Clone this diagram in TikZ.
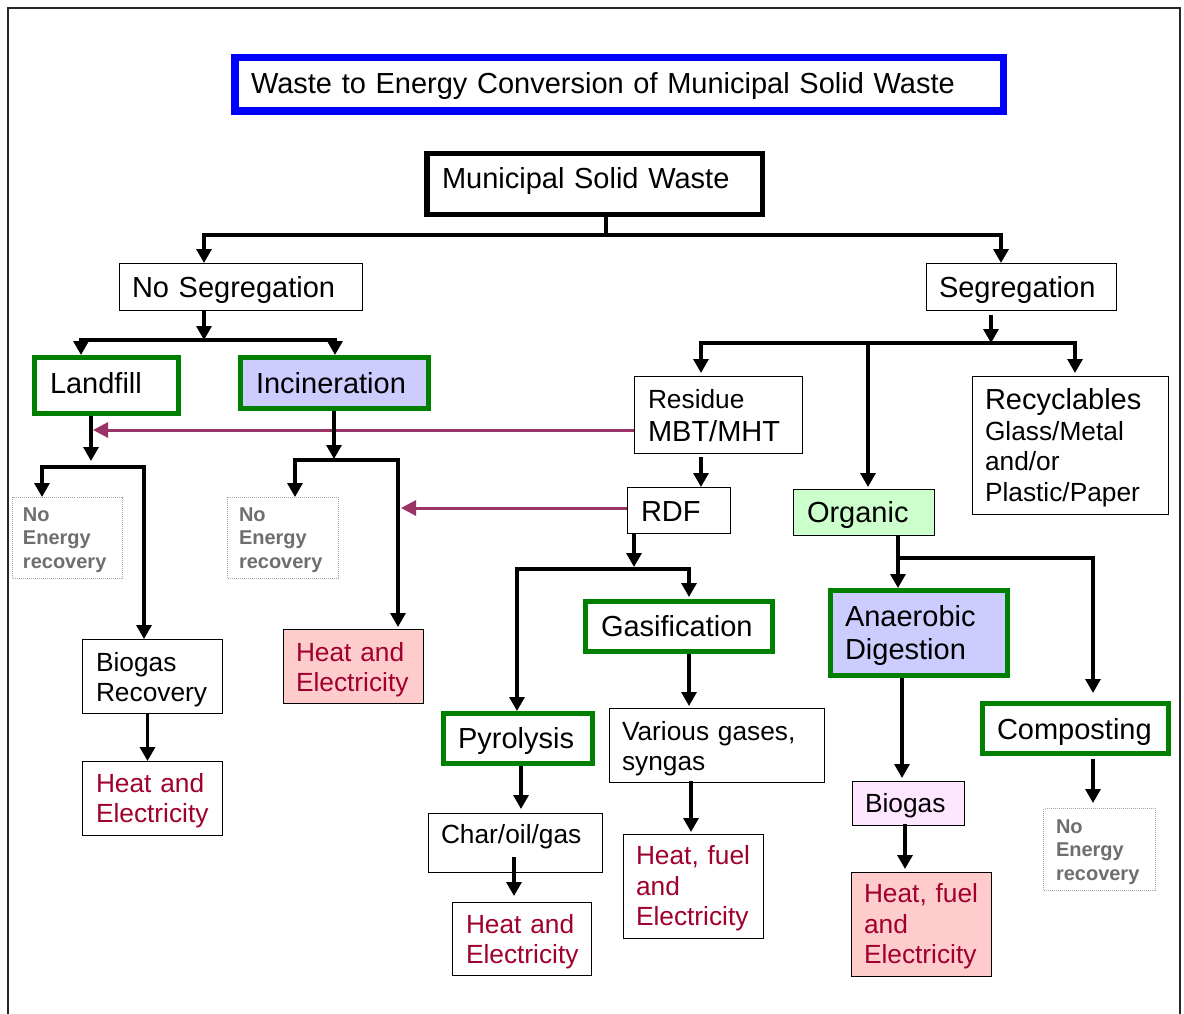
\documentclass[tikz,border=0pt]{standalone}
\usepackage{fontspec}
\setmainfont{Liberation Sans}
\usetikzlibrary{arrows.meta}
\hyphenpenalty=10000
\exhyphenpenalty=10000

\definecolor{titleblue}{HTML}{0000FF}
\definecolor{procgreen}{HTML}{008000}
\definecolor{lavender}{HTML}{CCCCFF}
\definecolor{mint}{HTML}{CCFFCC}
\definecolor{blush}{HTML}{FFCCCC}
\definecolor{pinklav}{HTML}{FFE6FF}
\definecolor{outred}{HTML}{A0002E}
\definecolor{plum}{HTML}{993366}
\definecolor{dimgray}{HTML}{6E6E6E}
\definecolor{dotgray}{HTML}{A6A6A6}

\newcommand{\fbig}{\fontsize{29}{33.4}\selectfont}
\newcommand{\fmed}{\fontsize{26.3}{30.5}\selectfont}
\newcommand{\fsml}{\fontsize{20}{23.3}\selectfont\bfseries}

% box from its outer corners (x1,y1)-(x2,y2), border width,
% left edge of its text and baseline of its first line; the text follows
\newcommand{\placebox}[9]{%
  \tikzset{curbox/.style={#2}}%
  \def\bxname{#1}%
  \pgfmathsetmacro{\bxlw}{#3}%
  \pgfmathsetmacro{\bxw}{#6-#4-#3}%
  \pgfmathsetmacro{\bxd}{#8-#4-#3/2}%
  \pgfmathsetmacro{\bxt}{\bxw-2*\bxd}%
  \pgfmathsetmacro{\bxx}{(#4+#6)/2}%
  \pgfmathsetmacro{\bxy}{(#5+#7)/2}%
  \pgfmathsetmacro{\bxa}{#9-#5-#3/2}%
  \pgfmathsetmacro{\bxb}{#7-#9-#3/2}%
  \placeboxtext}
\newcommand{\placeboxtext}[1]{%
  \node[curbox, line width=\bxlw pt, minimum width=\bxw pt, text width=\bxt pt,
        inner xsep=\bxd pt, text height=\bxa pt, text depth=\bxb pt]
        (\bxname) at (\bxx,\bxy) {#1};}

\tikzset{
  box/.style={draw=black, fill=white, inner ysep=0pt, align=left, font=\fbig, text=black},
  gbox/.style={box, draw=procgreen},
  mbox/.style={box, font=\fmed},
  hbox/.style={box, font=\fmed, text=outred},
  nebox/.style={box, draw=dotgray, densely dotted, font=\fsml, text=dimgray},
  ln/.style={line width=3.2pt, draw=black},
  arr/.style={ln, -{Triangle[length=14pt,width=15pt]}},
  arr2/.style={ln, {Triangle[length=14pt,width=15pt]}-{Triangle[length=14pt,width=15pt]}},
  parr/.style={line width=3pt, draw=plum, -{Triangle[length=15pt,width=15pt]}},
}

\begin{document}
\begin{tikzpicture}[x=1pt, y=-1pt]
\useasboundingbox[fill=white] (0,0) rectangle (1184,1014);
% outer frame
\draw[line width=1.5pt, draw=black!85] (8,1030) -- (8,8) -- (1180,8) -- (1180,1030);

% boxes
\placebox{title}{box, draw=titleblue}{7.5}{231}{54}{1007}{115}{251}{93.5}{Waste to Energy Conversion of Municipal Solid Waste}
\placebox{msw}{box}{5.5}{424}{151}{765}{217}{442}{188.5}{Municipal Solid Waste}
\placebox{noseg}{box}{1.3}{119}{263}{363}{311}{132}{297}{No Segregation}
\placebox{seg}{box}{1.3}{926}{263}{1117}{311}{939}{297}{Segregation}

\placebox{landfill}{gbox}{5}{32}{355}{181}{416}{50}{393}{Landfill}
\placebox{incin}{gbox, fill=lavender}{5}{238}{355}{431}{411}{256}{393}{Incineration}
\placebox{ne1}{nebox}{1}{12}{497}{123}{579}{23}{521.5}{No\\Energy\\recovery}
\placebox{ne2}{nebox}{1}{227}{497}{339}{579}{239}{521.5}{No\\Energy\\recovery}
\placebox{heat1}{hbox, fill=blush}{1.3}{283}{629}{424}{704}{296}{661}{Heat and\\Electricity}
\placebox{biorec}{mbox}{1.3}{82}{639}{223}{714}{96}{671}{Biogas\\Recovery}
\placebox{heat2}{hbox}{1.3}{82}{761}{223}{836}{96}{792}{Heat and\\Electricity}

\placebox{resid}{box}{1.3}{634}{376}{803}{454}{648}{408}{{\fmed Residue}\\MBT/MHT}
\placebox{rdf}{box}{1.3}{627}{487}{731}{534}{641}{521}{RDF}
\placebox{gasif}{gbox}{5}{583}{599}{775}{654}{601}{636}{Gasification}
\placebox{pyro}{gbox}{5}{441}{711}{595}{766}{458}{748.5}{Pyrolysis}
\placebox{char}{mbox}{1.3}{428}{813}{603}{873}{441}{843.5}{Char/oil/gas}
\placebox{heat3}{hbox}{1.3}{452}{902}{592}{976}{466}{933}{Heat and\\Electricity}
\placebox{various}{mbox}{1.3}{609}{708}{825}{783}{622}{740}{Various gases,\\syngas}
\placebox{heat4}{hbox}{1.3}{623}{834}{764}{939}{636}{864.5}{Heat, fuel\\and\\Electricity}

\placebox{organic}{box, fill=mint}{1.3}{793}{489}{935}{536}{807}{522}{Organic}
\placebox{recyc}{mbox}{1.3}{972}{376}{1169}{515}{985}{409.5}{{\fbig Recyclables}\\Glass/Metal\\and/or\\Plastic/Paper}
\placebox{ad}{gbox, fill=lavender}{5}{828}{588}{1010}{678}{845}{626}{Anaerobic\\Digestion}
\placebox{biogas}{mbox, fill=pinklav}{1.3}{852}{781}{965}{826}{865}{812.5}{Biogas}
\placebox{heat5}{hbox, fill=blush}{1.3}{851}{872}{992}{977}{864}{902.5}{Heat, fuel\\and\\Electricity}
\placebox{compost}{gbox}{5}{980}{701}{1171}{756}{997}{739}{Composting}
\placebox{ne3}{nebox}{1}{1043}{808}{1156}{891}{1056}{833.5}{No\\Energy\\recovery}

% branch points
\coordinate (m)  at (606,235);
\coordinate (mL) at (204,235);
\coordinate (mR) at (1001,235);
\coordinate (n)  at (204,340);
\coordinate (nL) at (81,340);
\coordinate (nR) at (335,340);
\coordinate (la) at (91,461);
\coordinate (lL) at (42,467);
\coordinate (lR) at (144,467);
\coordinate (ia) at (334,459);
\coordinate (iL) at (295,460);
\coordinate (iR) at (398,460);
\coordinate (pa) at (93,430);
\coordinate (pb) at (401,508);
\coordinate (s)  at (991,343);
\coordinate (sL) at (701,343);
\coordinate (sO) at (868,343);
\coordinate (sR) at (1075,343);
\coordinate (r)  at (634,569);
\coordinate (rL) at (517,569);
\coordinate (rR) at (689,569);
\coordinate (o)  at (898,558);
\coordinate (oR) at (1093,558);

% residue and RDF feeding the left-hand routes
\draw[parr] ([yshift=-15pt]resid.west) -- (pa);
\draw[parr] ([yshift=2.5pt]rdf.west) -- (pb);

% top split
\draw[ln] (m |- msw.south) -- (m);
\draw[arr] (m) -- (mL) -- (mL |- noseg.north);
\draw[arr] (m) -- (mR) -- (mR |- seg.north);

% no segregation
\draw[arr] (n |- noseg.south) -- (n);
\draw[arr2] (nL |- landfill.north) -- (nL) -- (nR) -- (nR |- incin.north);

% landfill
\draw[arr] (la |- landfill.south) -- (la);
\draw[arr2] (lL |- ne1.north) -- (lL) -- (lR) -- (lR |- biorec.north);
\draw[arr] ([xshift=-5pt]biorec.south) -- ([xshift=-5pt]biorec.south |- heat2.north);

% incineration
\draw[arr] (ia |- incin.south) -- (ia);
\draw[arr2] (iL |- ne2.north) -- (iL) -- (iR) -- ([yshift=2pt]iR |- heat1.north);

% segregation
\draw[arr] ([yshift=-4pt]s |- seg.south) -- (s);
\draw[arr2] ([yshift=3pt]sL |- resid.north) -- (sL) -- (sR) -- ([yshift=3pt]sR |- recyc.north);
\draw[arr] (sO) -- ([yshift=2pt]sO |- organic.north);

% residue / RDF
\draw[arr] ([xshift=-17.5pt,yshift=-3pt]resid.south) -- ([xshift=-17.5pt]resid.south |- rdf.north);
\draw[arr] (r |- rdf.south) -- ([yshift=2pt]r);
\draw[arr2] (rL |- pyro.north) -- (rL) -- (rR) -- ([yshift=2pt]rR |- gasif.north);
\draw[arr, shorten >=4pt] ([xshift=3pt]pyro.south) -- ([xshift=3pt]pyro.south |- char.north);
\draw[arr, shorten >=6pt] ([xshift=-1.5pt,yshift=16pt]char.south) -- ([xshift=-1.5pt]char.south |- heat3.north);
\draw[arr, shorten >=2pt] ([xshift=10pt]gasif.south) -- ([xshift=10pt]gasif.south |- various.north);
\draw[arr, shorten >=2pt] ([xshift=-26pt,yshift=2pt]various.south) -- ([xshift=-26pt]various.south |- heat4.north);

% organic
\draw[arr] ([xshift=34pt]organic.south) -- ([xshift=34pt]organic.south |- ad.north);
\draw[arr, shorten >=8pt] (o) -- (oR) -- (oR |- compost.north);
\draw[arr, shorten >=3pt] ([xshift=-17pt]ad.south) -- ([xshift=-17pt]ad.south |- biogas.north);
\draw[arr, shorten >=3pt] ([xshift=-3.5pt,yshift=2pt]biogas.south) -- ([xshift=-3.5pt]biogas.south |- heat5.north);
\draw[arr, shorten >=5pt] ([xshift=17.5pt,yshift=-3pt]compost.south) -- ([xshift=17.5pt]compost.south |- ne3.north);
\end{tikzpicture}
\end{document}
